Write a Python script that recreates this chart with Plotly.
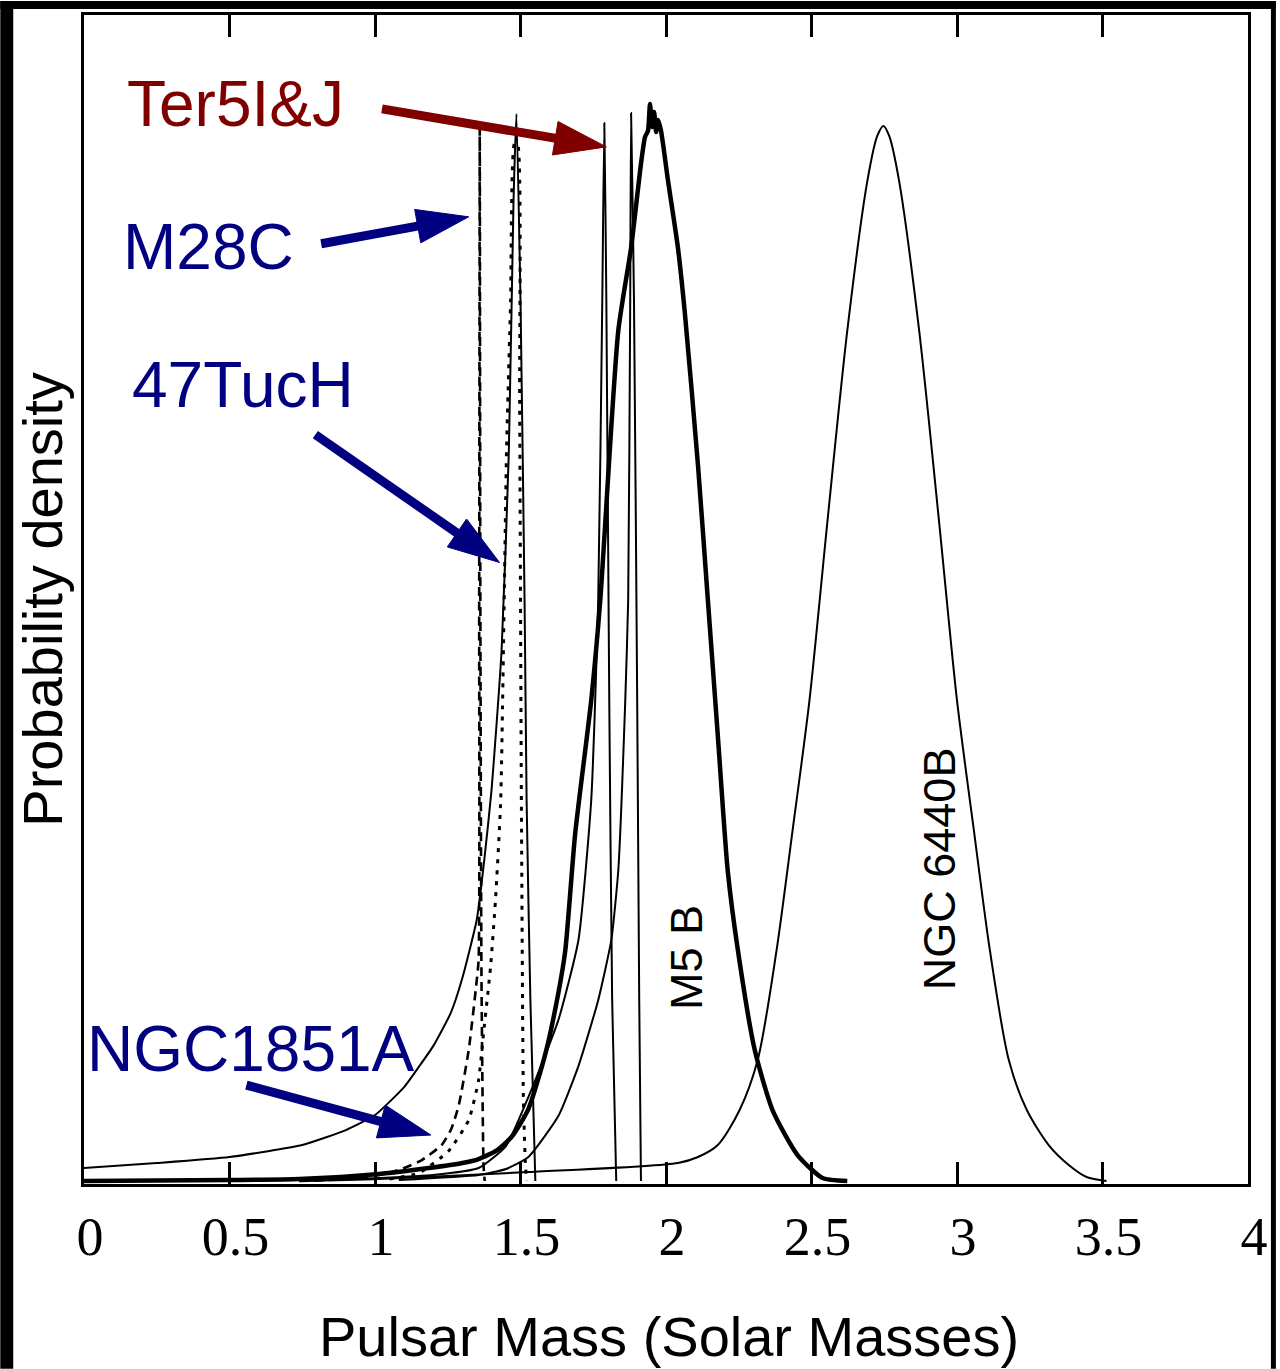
import plotly.graph_objects as go
import math

# ---------------- figure geometry ----------------
W, H = 1280, 1369
ML, MR, MT, MB = 84, 28, 14, 185
PW, PH = W - ML - MR, H - MT - MB
X_RANGE = [0, 4]
Y_RANGE = [-0.003, 1.167]

# ---------------- axis ticks ----------------
tick_vals = [0, 0.5, 1, 1.5, 2, 2.5, 3, 3.5, 4]
tick_text = ["0", "0.5", "1", "1.5", "2", "2.5", "3", "3.5", "4"]

# ---------------- data ----------------
# 47TucH (solid thin)
tuc47h_x = [0, 0.25, 0.5, 0.75, 0.9, 1.0, 1.1, 1.15, 1.2, 1.26, 1.3, 1.35, 1.375, 1.4, 1.435,
            1.46, 1.476, 1.486, 1.5, 1.514, 1.521, 1.534, 1.551]
tuc47h_y = [0.013, 0.018, 0.024, 0.036, 0.051, 0.066, 0.094, 0.114, 0.135, 0.168, 0.203, 0.262,
            0.32, 0.39, 0.531, 0.731, 0.981, 1.068, 0.881, 0.581, 0.381, 0.181, 0.0]

# M28C (dashed)
m28c_x = [0.74, 0.9, 1.014, 1.092, 1.161, 1.229, 1.262, 1.288, 1.322, 1.346, 1.356, 1.358, 1.36,
          1.362, 1.366, 1.373, 1.377]
m28c_y = [0.0, 0.002, 0.006, 0.012, 0.021, 0.036, 0.052, 0.076, 0.131, 0.191, 0.221, 0.581, 1.053,
          0.581, 0.2, 0.016, 0.0]

# NGC1851A (dotted)
ngc1851a_x = [1.05, 1.151, 1.253, 1.322, 1.356, 1.373, 1.397, 1.414, 1.432, 1.452, 1.466,
              1.479, 1.49, 1.497, 1.503, 1.51, 1.517, 1.521]
ngc1851a_y = [0.002, 0.008, 0.03, 0.061, 0.101, 0.148, 0.214, 0.281, 0.381, 0.731, 0.881,
              1.038, 1.038, 0.781, 0.381, 0.081, 0.016, 0.0]

# M5 B (thick)
m5b_x = [0, 0.5, 0.74, 1.014, 1.185, 1.3, 1.356, 1.42, 1.469, 1.527, 1.586, 1.63, 1.654, 1.688,
         1.743, 1.774, 1.836, 1.88, 1.914, 1.928, 1.938, 1.945, 1.952, 1.959, 1.966, 1.973,
         1.983, 2.007, 2.041, 2.065, 2.11, 2.144, 2.178, 2.212, 2.247, 2.305, 2.366, 2.452,
         2.538, 2.623]
m5b_y = [0.0, 0.001, 0.002, 0.007, 0.013, 0.018, 0.022, 0.031, 0.044, 0.072, 0.128, 0.188,
         0.231, 0.348, 0.481, 0.581, 0.851, 0.934, 1.018, 1.045, 1.051, 1.078, 1.055, 1.07,
         1.05, 1.062, 1.051, 1.001, 0.934, 0.868, 0.716, 0.581, 0.446, 0.311, 0.231, 0.131,
         0.071, 0.026, 0.003, 0.0]

# Ter5I (solid thin)
ter5i_x = [0.74, 1.014, 1.2, 1.356, 1.45, 1.527, 1.63, 1.699, 1.743, 1.767, 1.781, 1.788,
           1.795, 1.805, 1.815, 1.829]
ter5i_y = [0.0, 0.003, 0.006, 0.013, 0.035, 0.084, 0.161, 0.241, 0.381, 0.581, 0.881, 1.059,
           0.881, 0.481, 0.181, 0.0]

# Ter5J (solid thin)
ter5j_x = [1.082, 1.356, 1.45, 1.527, 1.63, 1.699, 1.767, 1.812, 1.836, 1.86, 1.87, 1.877,
           1.88, 1.89, 1.901, 1.908, 1.914]
ter5j_y = [0.001, 0.006, 0.012, 0.024, 0.065, 0.115, 0.181, 0.241, 0.311, 0.481, 0.581, 0.881,
           1.069, 0.881, 0.481, 0.181, 0.0]

# NGC 6440B (solid thin)
ngc6440b_x = [0.74, 1.014, 1.527, 2.041, 2.11, 2.178, 2.253, 2.315, 2.38, 2.435, 2.493, 2.555,
              2.623, 2.692, 2.726, 2.747, 2.767, 2.801, 2.87, 2.938, 3.0, 3.058, 3.113, 3.178,
              3.24, 3.315, 3.384, 3.445, 3.514]
ngc6440b_y = [0.0, 0.002, 0.009, 0.018, 0.024, 0.036, 0.071, 0.121, 0.231, 0.351, 0.481, 0.661,
              0.851, 1.001, 1.046, 1.056, 1.046, 1.001, 0.851, 0.661, 0.481, 0.351, 0.231,
              0.121, 0.071, 0.036, 0.016, 0.004, 0.0]

# labels and arrows
labels = ["Ter5I&J", "M28C", "47TucH", "NGC1851A"]
label_colors = ["#800000", "#000080", "#000080", "#000080"]
label_x = [0.521, 0.428, 0.545, 0.575]
label_y = [1.078, 0.935, 0.797, 0.132]
arrow_tail_x = [1.024, 0.815, 0.795, 0.558]
arrow_tail_y = [1.073, 0.938, 0.747, 0.096]
arrow_tip_x = [1.795, 1.322, 1.428, 1.192]
arrow_tip_y = [1.035, 0.965, 0.619, 0.046]

rot_labels = ["M5 B", "NGC 6440B"]
rot_x = [2.068, 2.938]
rot_y = [0.224, 0.313]

# ---------------- helpers (pixel <-> data) ----------------
def to_px(x, y):
    px = ML + (x - X_RANGE[0]) / (X_RANGE[1] - X_RANGE[0]) * PW
    py = MT + (Y_RANGE[1] - y) / (Y_RANGE[1] - Y_RANGE[0]) * PH
    return px, py


def to_data(px, py):
    x = X_RANGE[0] + (px - ML) / PW * (X_RANGE[1] - X_RANGE[0])
    y = Y_RANGE[1] - (py - MT) / PH * (Y_RANGE[1] - Y_RANGE[0])
    return x, y


def paper_x(px):
    return (px - ML) / PW


def paper_y(py):
    return (H - MB - py) / PH


fig = go.Figure()

SM = 0.5
thin = dict(color="black", width=2, shape="spline", smoothing=SM)
fig.add_trace(go.Scatter(x=ngc6440b_x, y=ngc6440b_y, mode="lines",
                         line=dict(color="black", width=2, shape="spline", smoothing=0.8)))
fig.add_trace(go.Scatter(x=tuc47h_x, y=tuc47h_y, mode="lines", line=thin))
fig.add_trace(go.Scatter(x=ter5i_x, y=ter5i_y, mode="lines", line=thin))
fig.add_trace(go.Scatter(x=ter5j_x, y=ter5j_y, mode="lines", line=thin))
fig.add_trace(go.Scatter(x=m28c_x, y=m28c_y, mode="lines",
                         line=dict(color="black", width=2.6, dash="9px,6px",
                                   shape="spline", smoothing=SM)))
fig.add_trace(go.Scatter(x=ngc1851a_x, y=ngc1851a_y, mode="lines",
                         line=dict(color="black", width=3, dash="4px,7px",
                                   shape="spline", smoothing=SM)))
fig.add_trace(go.Scatter(x=m5b_x, y=m5b_y, mode="lines",
                         line=dict(color="black", width=4.5, shape="spline", smoothing=0.6)))

shapes = []
# arrows
HL, HW, SW = 52, 17, 9
for tx, ty, hx, hy, col in zip(arrow_tail_x, arrow_tail_y, arrow_tip_x, arrow_tip_y, label_colors):
    tpx, tpy = to_px(tx, ty)
    hpx, hpy = to_px(hx, hy)
    L = math.hypot(hpx - tpx, hpy - tpy)
    dx, dy = (hpx - tpx) / L, (hpy - tpy) / L
    nx, ny = -dy, dx
    bx, by = hpx - dx * HL, hpy - dy * HL
    s0 = to_data(tpx, tpy)
    s1 = to_data(bx + dx * 4, by + dy * 4)
    shapes.append(dict(type="line", xref="x", yref="y", x0=s0[0], y0=s0[1], x1=s1[0], y1=s1[1],
                       line=dict(color=col, width=SW), layer="above"))
    p1 = to_data(hpx, hpy)
    p2 = to_data(bx + nx * HW, by + ny * HW)
    p3 = to_data(bx - nx * HW, by - ny * HW)
    path = f"M {p1[0]},{p1[1]} L {p2[0]},{p2[1]} L {p3[0]},{p3[1]} Z"
    shapes.append(dict(type="path", xref="x", yref="y", path=path, fillcolor=col,
                       line=dict(color=col, width=1), layer="above"))

# black frame strips of the image
for (x0, x1, y0, y1) in [(0, 13, 0, H), (0, W, 0, 8), (1275, W, 0, H)]:
    shapes.append(dict(type="rect", xref="paper", yref="paper",
                       x0=paper_x(x0), x1=paper_x(x1), y0=paper_y(y1), y1=paper_y(y0),
                       fillcolor="black", line=dict(width=0), layer="above"))

annotations = []
for t, c, x, y in zip(labels, label_colors, label_x, label_y):
    annotations.append(dict(text=t, x=x, y=y, xref="x", yref="y", showarrow=False,
                            font=dict(family="Liberation Sans, Arial", size=64, color=c),
                            xanchor="center", yanchor="middle"))
for t, x, y in zip(rot_labels, rot_x, rot_y):
    annotations.append(dict(text=t, x=x, y=y, xref="x", yref="y", showarrow=False,
                            textangle=-90,
                            font=dict(family="Liberation Sans, Arial", size=45, color="black"),
                            xanchor="center", yanchor="middle"))
# axis titles
annotations.append(dict(text="Pulsar Mass (Solar Masses)", x=paper_x(671), y=paper_y(1337),
                        xref="paper", yref="paper", showarrow=False,
                        font=dict(family="Liberation Sans, Arial", size=56, color="black"),
                        xanchor="center", yanchor="middle"))
annotations.append(dict(text="Probability density", x=paper_x(42), y=paper_y(599),
                        xref="paper", yref="paper", showarrow=False, textangle=-90,
                        font=dict(family="Liberation Sans, Arial", size=56, color="black"),
                        xanchor="center", yanchor="middle"))

fig.update_layout(
    width=W, height=H,
    margin=dict(l=ML, r=MR, t=MT, b=MB, pad=0),
    paper_bgcolor="white", plot_bgcolor="white",
    showlegend=False,
    shapes=shapes, annotations=annotations,
    xaxis=dict(range=X_RANGE, tickvals=tick_vals, ticktext=tick_text,
               ticks="inside", ticklen=22, tickwidth=2.5, tickcolor="black",
               showline=True, linecolor="black", linewidth=3, mirror="ticks",
               showgrid=False, zeroline=False,
               tickfont=dict(family="Liberation Serif, Times New Roman", size=54, color="black"),
               ticklabelstandoff=3, ticklabelshift=6),
    yaxis=dict(range=Y_RANGE, showticklabels=False, ticks="",
               showline=True, linecolor="black", linewidth=3, mirror=True,
               showgrid=False, zeroline=False),
)

fig.write_html("out.html")
